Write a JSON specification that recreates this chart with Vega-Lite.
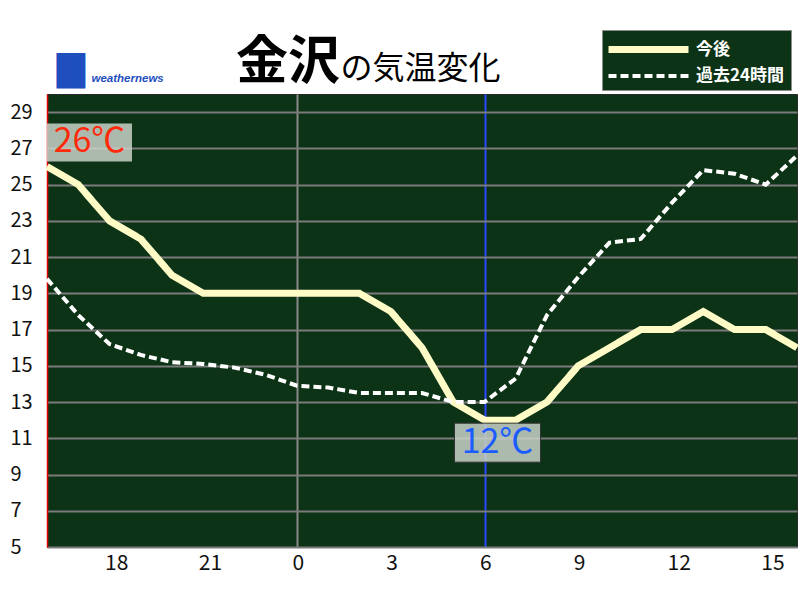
{
  "$schema": "https://vega.github.io/schema/vega-lite/v6.json",
  "width": 750,
  "height": 453,
  "autosize": {"type": "none"},
  "padding": {"left": 47, "top": 94, "right": 3, "bottom": 53},
  "background": "#ffffff",
  "config": {
    "view": {"fill": "#0c3316", "stroke": "#2a2a2a", "strokeWidth": 1},
    "font": "Noto Sans CJK JP"
  },
  "title": {
    "text": "金沢",
    "anchor": "start",
    "frame": "group",
    "dx": 189,
    "fontSize": 52,
    "fontWeight": "bold",
    "font": "Noto Sans CJK JP",
    "color": "#000000",
    "offset": -60
  },
  "resolve": {"axis": {"y": "independent"}},
  "data": {
    "values": [
      {"time": "2024-06-01T16:00", "series": "今後", "temp": 26},
      {"time": "2024-06-01T17:00", "series": "今後", "temp": 25},
      {"time": "2024-06-01T18:00", "series": "今後", "temp": 23},
      {"time": "2024-06-01T19:00", "series": "今後", "temp": 22},
      {"time": "2024-06-01T20:00", "series": "今後", "temp": 20},
      {"time": "2024-06-01T21:00", "series": "今後", "temp": 19},
      {"time": "2024-06-01T22:00", "series": "今後", "temp": 19},
      {"time": "2024-06-01T23:00", "series": "今後", "temp": 19},
      {"time": "2024-06-02T00:00", "series": "今後", "temp": 19},
      {"time": "2024-06-02T01:00", "series": "今後", "temp": 19},
      {"time": "2024-06-02T02:00", "series": "今後", "temp": 19},
      {"time": "2024-06-02T03:00", "series": "今後", "temp": 18},
      {"time": "2024-06-02T04:00", "series": "今後", "temp": 16},
      {"time": "2024-06-02T05:00", "series": "今後", "temp": 13},
      {"time": "2024-06-02T06:00", "series": "今後", "temp": 12},
      {"time": "2024-06-02T07:00", "series": "今後", "temp": 12},
      {"time": "2024-06-02T08:00", "series": "今後", "temp": 13},
      {"time": "2024-06-02T09:00", "series": "今後", "temp": 15},
      {"time": "2024-06-02T10:00", "series": "今後", "temp": 16},
      {"time": "2024-06-02T11:00", "series": "今後", "temp": 17},
      {"time": "2024-06-02T12:00", "series": "今後", "temp": 17},
      {"time": "2024-06-02T13:00", "series": "今後", "temp": 18},
      {"time": "2024-06-02T14:00", "series": "今後", "temp": 17},
      {"time": "2024-06-02T15:00", "series": "今後", "temp": 17},
      {"time": "2024-06-02T16:00", "series": "今後", "temp": 16},
      {"time": "2024-06-01T16:00", "series": "過去24時間", "temp": 19.8},
      {"time": "2024-06-01T17:00", "series": "過去24時間", "temp": 17.8},
      {"time": "2024-06-01T18:00", "series": "過去24時間", "temp": 16.2},
      {"time": "2024-06-01T19:00", "series": "過去24時間", "temp": 15.6},
      {"time": "2024-06-01T20:00", "series": "過去24時間", "temp": 15.2},
      {"time": "2024-06-01T21:00", "series": "過去24時間", "temp": 15.1},
      {"time": "2024-06-01T22:00", "series": "過去24時間", "temp": 14.9},
      {"time": "2024-06-01T23:00", "series": "過去24時間", "temp": 14.5},
      {"time": "2024-06-02T00:00", "series": "過去24時間", "temp": 13.9},
      {"time": "2024-06-02T01:00", "series": "過去24時間", "temp": 13.8},
      {"time": "2024-06-02T02:00", "series": "過去24時間", "temp": 13.5},
      {"time": "2024-06-02T03:00", "series": "過去24時間", "temp": 13.5},
      {"time": "2024-06-02T04:00", "series": "過去24時間", "temp": 13.5},
      {"time": "2024-06-02T05:00", "series": "過去24時間", "temp": 13.0},
      {"time": "2024-06-02T06:00", "series": "過去24時間", "temp": 13.0},
      {"time": "2024-06-02T07:00", "series": "過去24時間", "temp": 14.3},
      {"time": "2024-06-02T08:00", "series": "過去24時間", "temp": 17.8},
      {"time": "2024-06-02T09:00", "series": "過去24時間", "temp": 19.9},
      {"time": "2024-06-02T10:00", "series": "過去24時間", "temp": 21.8},
      {"time": "2024-06-02T11:00", "series": "過去24時間", "temp": 22.0},
      {"time": "2024-06-02T12:00", "series": "過去24時間", "temp": 24.0},
      {"time": "2024-06-02T13:00", "series": "過去24時間", "temp": 25.8},
      {"time": "2024-06-02T14:00", "series": "過去24時間", "temp": 25.6},
      {"time": "2024-06-02T15:00", "series": "過去24時間", "temp": 25.0},
      {"time": "2024-06-02T16:00", "series": "過去24時間", "temp": 26.6}
    ]
  },
  "encoding": {
    "x": {
      "field": "time",
      "type": "temporal",
      "scale": {
        "domain": [
          {"year": 2024, "month": 6, "date": 1, "hours": 16},
          {"year": 2024, "month": 6, "date": 2, "hours": 16}
        ]
      },
      "axis": {
        "values": [
          {"year": 2024, "month": 6, "date": 1, "hours": 18},
          {"year": 2024, "month": 6, "date": 1, "hours": 21},
          {"year": 2024, "month": 6, "date": 2, "hours": 0},
          {"year": 2024, "month": 6, "date": 2, "hours": 3},
          {"year": 2024, "month": 6, "date": 2, "hours": 6},
          {"year": 2024, "month": 6, "date": 2, "hours": 9},
          {"year": 2024, "month": 6, "date": 2, "hours": 12},
          {"year": 2024, "month": 6, "date": 2, "hours": 15}
        ],
        "format": "%-H",
        "grid": true,
        "gridColor": {"condition": {"test": "hours(datum.value) === 6", "value": "#2a48ff"}, "value": "#8a8a8a"},
        "gridOpacity": {"condition": {"test": "hours(datum.value) === 0 || hours(datum.value) === 6", "value": 1}, "value": 0},
        "gridWidth": 2,
        "ticks": false,
        "domain": false,
        "labelAlign": "left",
        "labelOffset": -5,
        "labelPadding": 5,
        "labelFontSize": 21,
        "labelFont": "Noto Sans CJK JP",
        "labelColor": "#111111",
        "title": "の気温変化",
        "titleX": 293,
        "titleY": -469,
        "titleAlign": "left",
        "titleBaseline": "alphabetic",
        "titleFontSize": 32,
        "titleFontWeight": "normal",
        "titleFont": "Noto Sans CJK JP",
        "titleColor": "#000000"
      }
    },
    "y": {
      "field": "temp",
      "type": "quantitative",
      "scale": {"domain": [5, 30], "nice": false, "zero": false},
      "axis": {
        "orient": "left",
        "values": [5, 7, 9, 11, 13, 15, 17, 19, 21, 23, 25, 27, 29],
        "grid": true,
        "gridColor": "#7b7b7b",
        "gridWidth": 2,
        "ticks": false,
        "domain": true,
        "domainColor": "#e00000",
        "domainWidth": 1.5,
        "labelAlign": "left",
        "labelPadding": 37,
        "labelFontSize": 20,
        "labelFont": "Noto Sans CJK JP",
        "labelColor": "#111111",
        "title": "weathernews",
        "titleAngle": 0,
        "titleX": 44,
        "titleY": -13,
        "titleAlign": "left",
        "titleBaseline": "alphabetic",
        "titleFontSize": 11.5,
        "titleFontStyle": "italic",
        "titleFontWeight": "bold",
        "titleFont": "Liberation Sans",
        "titleColor": "#1f4fbf"
      }
    }
  },
  "layer": [
    {
      "mark": {"type": "line"},
      "encoding": {
        "color": {
          "field": "series",
          "type": "nominal",
          "scale": {"domain": ["今後", "過去24時間"], "range": ["#fffbc6", "#ffffff"]},
          "legend": {
            "title": null,
            "orient": "none",
            "legendX": 555,
            "legendY": -64,
            "direction": "vertical",
            "fillColor": "#0c3316",
            "strokeColor": "#8c8c8c",
            "padding": 6,
            "rowPadding": -3,
            "symbolType": "M-4,0H4",
            "symbolSize": 400,
            "symbolOffset": 27,
            "labelFont": "Noto Sans CJK JP",
            "labelFontSize": 17,
            "labelFontWeight": "bold",
            "labelColor": "#ffffff",
            "labelOffset": 34
          }
        },
        "strokeDash": {
          "field": "series",
          "type": "nominal",
          "scale": {"domain": ["今後", "過去24時間"], "range": [[1, 0], [8, 4]]}
        },
        "strokeWidth": {
          "field": "series",
          "type": "nominal",
          "scale": {"domain": ["今後", "過去24時間"], "range": [7, 4]}
        }
      }
    },
    {
      "transform": [
        {"filter": "datum.series === '今後'"},
        {"joinaggregate": [{"op": "max", "field": "temp", "as": "tmax"}]},
        {"filter": "datum.temp === datum.tmax"},
        {"window": [{"op": "row_number", "as": "rn"}]},
        {"filter": "datum.rn === 1"},
        {"calculate": "datum.temp + '℃'", "as": "label"}
      ],
      "encoding": {
        "y": {
          "field": "temp",
          "type": "quantitative",
          "scale": {"domain": [5, 30], "nice": false, "zero": false},
          "axis": {
            "orient": "right",
            "labels": false,
            "ticks": false,
            "domain": false,
            "grid": false,
            "title": "█▎",
            "titleAngle": 0,
            "titleX": -741,
            "titleY": -14,
            "titleAlign": "left",
            "titleBaseline": "alphabetic",
            "titleFontSize": 30,
            "titleFontStyle": "normal",
            "titleFontWeight": "normal",
            "titleFont": "DejaVu Sans",
            "titleColor": "#1f4fbf"
          }
        }
      },
      "layer": [
        {
          "mark": {"type": "rect", "fill": "#c9d2c9", "fillOpacity": 0.85, "xOffset": 0, "x2Offset": 85, "yOffset": -43, "y2Offset": -5},
          "encoding": {"x2": {"field": "time"}, "y2": {"field": "temp"}}
        },
        {
          "mark": {"type": "text", "dx": 42.5, "dy": -24, "fontSize": 34, "color": "#ff2a0a", "align": "center", "baseline": "middle", "font": "Noto Sans CJK JP"},
          "encoding": {"text": {"field": "label"}}
        }
      ]
    },
    {
      "transform": [
        {"filter": "datum.series === '今後'"},
        {"joinaggregate": [{"op": "min", "field": "temp", "as": "tmin"}]},
        {"filter": "datum.temp === datum.tmin"},
        {"window": [{"op": "row_number", "as": "rn"}]},
        {"filter": "datum.rn === 1"},
        {"calculate": "datum.temp + '℃'", "as": "label"}
      ],
      "encoding": {
        "y": {
          "field": "temp",
          "type": "quantitative",
          "scale": {"domain": [5, 30], "nice": false, "zero": false},
          "axis": null
        }
      },
      "layer": [
        {
          "mark": {"type": "rect", "fill": "#c9d2c9", "fillOpacity": 0.85, "stroke": "#333333", "strokeWidth": 1, "xOffset": -30, "x2Offset": 56, "yOffset": 3, "y2Offset": 42},
          "encoding": {"x2": {"field": "time"}, "y2": {"field": "temp"}}
        },
        {
          "mark": {"type": "text", "dx": 13, "dy": 22.5, "fontSize": 34, "color": "#1a5cff", "align": "center", "baseline": "middle", "font": "Noto Sans CJK JP"},
          "encoding": {"text": {"field": "label"}}
        }
      ]
    }
  ]
}
